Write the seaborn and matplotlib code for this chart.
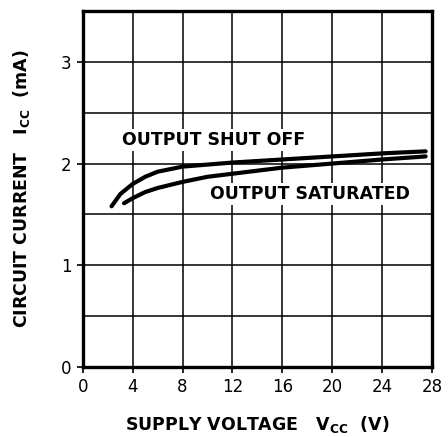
import numpy as np
import pandas as pd
import matplotlib
matplotlib.use("Agg")
import matplotlib.pyplot as plt
import seaborn as sns

# values (Vcc in V, Icc in mA)
shut_off_v = [2.3, 3.0, 4.0, 5.0, 6.0, 8.0, 10.0, 12.0, 16.0, 20.0, 24.0, 27.5]
shut_off_i = [1.58, 1.70, 1.80, 1.87, 1.92, 1.97, 1.99, 2.01, 2.04, 2.07, 2.10, 2.12]
saturated_v = [3.3, 4.0, 5.0, 6.0, 8.0, 10.0, 12.0, 16.0, 20.0, 24.0, 27.5]
saturated_i = [1.61, 1.66, 1.72, 1.76, 1.82, 1.87, 1.90, 1.96, 2.00, 2.04, 2.07]

x_ticks = [0, 4, 8, 12, 16, 20, 24, 28]
y_ticks = [0, 1, 2, 3]

df = pd.concat([
    pd.DataFrame({"vcc": shut_off_v, "icc": shut_off_i, "mode": "OUTPUT SHUT OFF"}),
    pd.DataFrame({"vcc": saturated_v, "icc": saturated_i, "mode": "OUTPUT SATURATED"}),
])

sns.set_style("white")
plt.rcParams["font.family"] = ["DejaVu Sans"]
plt.rcParams["text.color"] = "black"
plt.rcParams["axes.labelcolor"] = "black"

fig = plt.figure(figsize=(4.48, 4.37), dpi=100)
ax = fig.add_axes([0.185, 0.160, 0.779, 0.815])

sns.lineplot(data=df, x="vcc", y="icc", units="mode", estimator=None,
             color="black", lw=3.0, legend=False, ax=ax, sort=False)

ax.set_xlim(0, 28)
ax.set_ylim(0, 3.5)
ax.set_xticks(x_ticks)
ax.set_yticks(y_ticks)
ax.set_yticks(np.arange(0, 3.51, 0.5), minor=True)
ax.grid(True, which="both", color="black", lw=1.1)
ax.set_axisbelow(True)

for s in ax.spines.values():
    s.set_color("black")
    s.set_linewidth(2.4)

ax.tick_params(axis="both", which="major", direction="out", length=4, width=1.2,
               labelsize=12, colors="black", pad=4, left=True, bottom=True)
ax.tick_params(axis="y", which="minor", length=0)

box = dict(facecolor="white", edgecolor="none", pad=1.5)
ax.text(3.1, 2.23, "OUTPUT SHUT OFF", fontsize=12.5, fontweight="bold",
        va="center", bbox=box)
ax.text(10.2, 1.70, "OUTPUT SATURATED", fontsize=12.5, fontweight="bold",
        va="center", bbox=box)

ax.set_xlabel(r"SUPPLY VOLTAGE   V$_{\mathregular{CC}}$  (V)", fontsize=12.5,
              fontweight="bold", labelpad=13)
ax.set_ylabel(r"CIRCUIT CURRENT   I$_{\mathregular{CC}}$  (mA)", fontsize=12.5,
              fontweight="bold", labelpad=21)

fig.savefig("out.png", dpi=100)
